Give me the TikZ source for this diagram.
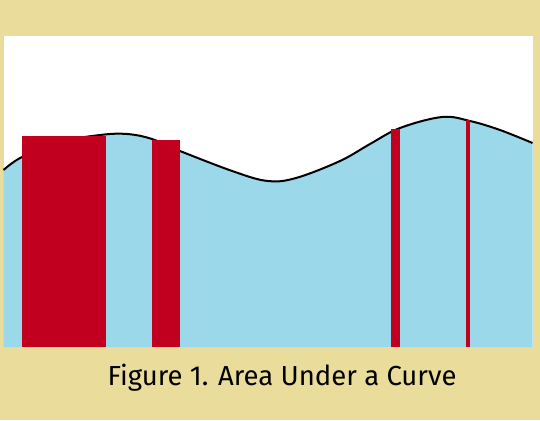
\documentclass[tikz,border=0pt]{standalone}
\usepackage{fontspec}
\setmainfont{Fira Sans}
\definecolor{bgbeige}{RGB}{234,220,155}
\definecolor{areablue}{RGB}{154,216,234}
\definecolor{barred}{RGB}{192,0,30}
\begin{document}
\begin{tikzpicture}[x=1pt,y=-1pt,
  bar/.style={fill=barred,draw=none},
  curveline/.style={black,line width=2pt}]
\fill[bgbeige] (0,0) rectangle (540,420);
\useasboundingbox (0,0) rectangle (540,420);
\fill[white] (3.5,36) rectangle (532.5,347);
\def\curvepts{(3.5,170) (22,157) (60,142) (100,135) (127,134) (152,139) (180,151) (235,172) (268,181) (296,178) (340,161) (370,144) (400,128) (442,117) (470,121) (500,130) (532.5,143)}
\fill[areablue] (3.5,347) -- plot[smooth,tension=0.6] coordinates {\curvepts} -- (532.5,347) -- cycle;
\draw[curveline] plot[smooth,tension=0.6] coordinates {\curvepts};
\fill[bar] (22,136) rectangle (105.5,347);
\fill[bar] (151.5,140) rectangle (179.5,347);
\fill[bar] (391,129) rectangle (400,347);
\fill[bar] (466,120) rectangle (470,347);
\node[font=\fontsize{27.5}{32}\selectfont,inner sep=0pt] (caption) at (282,378) {Figure 1. Area Under a Curve};
\end{tikzpicture}
\end{document}
